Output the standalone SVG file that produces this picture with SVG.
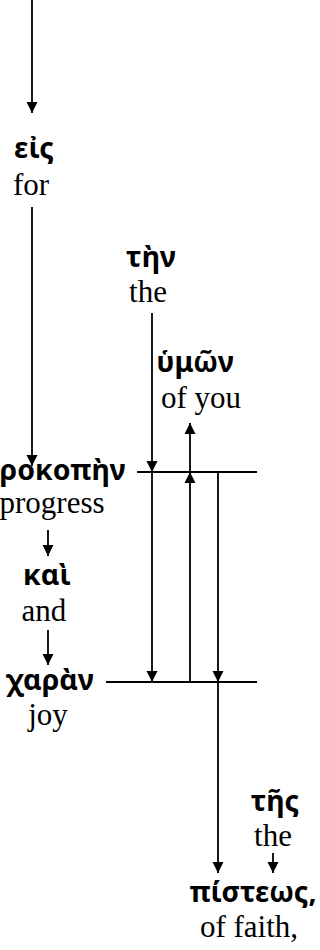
<svg xmlns="http://www.w3.org/2000/svg" width="320" height="950" viewBox="0 0 320 950">
  <style>
    .gk { font-family: "Noto Sans", "DejaVu Sans", sans-serif; font-weight: bold; font-size: 28.5px; fill: #000; text-anchor: middle; }
    .en { font-family: "Liberation Serif", "Times New Roman", serif; font-size: 31px; fill: #000; text-anchor: middle; }
    .ln { stroke: #000; stroke-width: 1.8; fill: none; }
    .arr { marker-end: url(#head); }
  </style>
  <defs>
    <marker id="head" markerUnits="userSpaceOnUse" markerWidth="12" markerHeight="12" refX="11" refY="6" orient="auto">
      <path d="M0,0.5 L11,6 L0,11.5 Z" fill="#000"/>
    </marker>
  </defs>

  <rect width="320" height="950" fill="#fff"/>

  <g id="connectors">
    <line class="ln arr" x1="32" y1="0" x2="32" y2="113"/>
    <line class="ln arr" x1="32" y1="207" x2="32" y2="466"/>
    <line class="ln arr" x1="48" y1="530" x2="48" y2="556"/>
    <line class="ln arr" x1="48" y1="630" x2="48" y2="665"/>
    <!-- baselines -->
    <line class="ln" x1="137" y1="472" x2="257" y2="472"/>
    <line class="ln" x1="106" y1="682" x2="257" y2="682"/>
    <!-- modifiers -->
    <line class="ln arr" x1="152" y1="313" x2="152" y2="472"/>
    <line class="ln arr" x1="152" y1="472" x2="152" y2="682"/>
    <line class="ln arr" x1="190" y1="682" x2="190" y2="472"/>
    <line class="ln arr" x1="190" y1="472" x2="190" y2="423"/>
    <line class="ln arr" x1="218" y1="472" x2="218" y2="682"/>
    <line class="ln arr" x1="218" y1="682" x2="218" y2="873"/>
    <line class="ln arr" x1="273" y1="853" x2="273" y2="873"/>
  </g>

  <g id="eis">
    <text class="gk" x="34" y="158">εἰς</text>
    <text class="en" x="31" y="195">for</text>
  </g>
  <g id="ten">
    <text class="gk" x="151" y="267">τὴν</text>
    <text class="en" x="148" y="302">the</text>
  </g>
  <g id="hymon">
    <text class="gk" x="195" y="372">ὑμῶν</text>
    <text class="en" x="201" y="408">of you</text>
  </g>
  <g id="prokopen">
    <text class="gk" x="52" y="480">προκοπὴν</text>
    <text class="en" x="52" y="513">progress</text>
  </g>
  <g id="kai">
    <text class="gk" x="47" y="585">καὶ</text>
    <text class="en" x="44" y="621">and</text>
  </g>
  <g id="charan">
    <text class="gk" x="50" y="690">χαρὰν</text>
    <text class="en" x="48" y="725">joy</text>
  </g>
  <g id="tes">
    <text class="gk" x="275" y="811">τῆς</text>
    <text class="en" x="273" y="846">the</text>
  </g>
  <g id="pisteos">
    <text class="gk" x="253" y="902">πίστεως,</text>
    <text class="en" x="249" y="937">of faith,</text>
  </g>
</svg>
